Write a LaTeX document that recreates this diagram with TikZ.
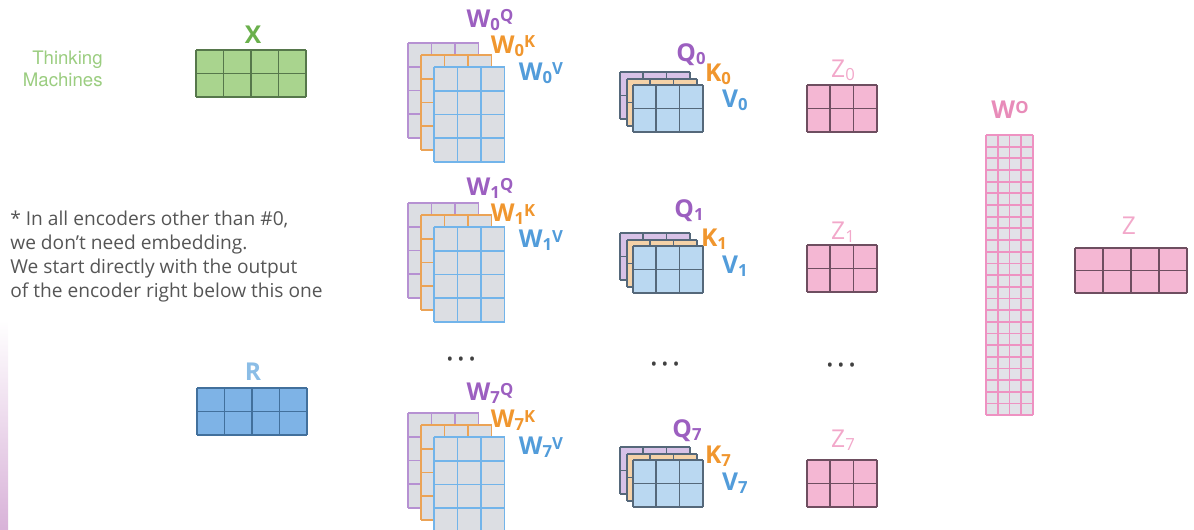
\documentclass[tikz,border=0pt]{standalone}
\usepackage{fontspec}
\setmainfont{Open Sans}
\newfontfamily\helvfont{TeX Gyre Heros}
\usetikzlibrary{positioning}

\definecolor{purplelab}{HTML}{9C5FC0}
\definecolor{purpleline}{HTML}{B691D2}
\definecolor{orangelab}{HTML}{F0962E}
\definecolor{orangeline}{HTML}{EBA356}
\definecolor{bluelab}{HTML}{529CDA}
\definecolor{blueline}{HTML}{72B4EA}
\definecolor{wfill}{HTML}{DCDEE3}
\definecolor{qpurple}{HTML}{D8C2E7}
\definecolor{qorange}{HTML}{F5D2A8}
\definecolor{qblue}{HTML}{BAD8F1}
\definecolor{qline}{HTML}{55687A}
\definecolor{zfill}{HTML}{F4B7D3}
\definecolor{zline}{HTML}{6E4E60}
\definecolor{zlab}{HTML}{F2A8CA}
\definecolor{wolab}{HTML}{E88CB9}
\definecolor{woline}{HTML}{EE92C2}
\definecolor{wofill}{HTML}{E2E2E8}
\definecolor{xfill}{HTML}{A9D48E}
\definecolor{xline}{HTML}{56774B}
\definecolor{xlab}{HTML}{6AB04C}
\definecolor{tmgreen}{HTML}{9BCD80}
\definecolor{rfill}{HTML}{7EB3E6}
\definecolor{rline}{HTML}{42709C}
\definecolor{rlab}{HTML}{8BBDE6}
\definecolor{notegray}{HTML}{555555}

% x, y, columns, rows, cell width, cell height, fill, line colour
\newcommand{\cellgrid}[8]{%
  \fill[#7] (#1,#2) rectangle ++(#3*#5,#4*#6);
  \foreach \i in {0,...,#3} \draw[#8,line width=1pt] (#1+\i*#5,#2) -- ++(0,#4*#6);
  \foreach \j in {0,...,#4} \draw[#8,line width=1pt] (#1,#2+\j*#6) -- ++(#3*#5,0);
}
\newcommand{\wstack}[2]{%
  \cellgrid{#1}{#2}{3}{4}{23.5}{23.75}{wfill}{purpleline}
  \cellgrid{#1+13}{#2+12}{3}{4}{23.5}{23.75}{wfill}{orangeline}
  \cellgrid{#1+26}{#2+24}{3}{4}{23.5}{23.75}{wfill}{blueline}
}
\newcommand{\qstack}[2]{%
  \cellgrid{#1}{#2}{3}{2}{23.3}{23.5}{qpurple}{qline}
  \cellgrid{#1+7}{#2+7}{3}{2}{23.3}{23.5}{qorange}{qline}
  \cellgrid{#1+13}{#2+13}{3}{2}{23.3}{23.5}{qblue}{qline}
}
\newcommand{\ssub}[1]{\raisebox{-1.5pt}{\fontsize{9.5}{9.5}\selectfont #1}}
\newcommand{\ssup}[1]{\raisebox{3.1pt}{\fontsize{9.5}{9.5}\selectfont #1}}

\tikzset{
  biglab/.style={inner sep=0pt,font=\fontsize{14}{16}\selectfont\bfseries},
  zlabel/.style={inner sep=0pt,text=zlab,font=\fontsize{14}{16}\selectfont},
  dots/.style={inner sep=0pt,text=black!75,font=\fontsize{10}{10}\selectfont}
}

\begin{document}
\begin{tikzpicture}[x=0.02cm,y=-0.02cm]
\useasboundingbox (0,0) rectangle (1194,529);
\shade[top color=white,bottom color=violet!30] (0,320) rectangle (8,529);

\node[anchor=east,align=right,inner sep=0pt,text=tmgreen,font=\helvfont\fontsize{10.6}{12.6}\selectfont] (brand) at (103,69) {Thinking\\Machines};

\node[anchor=north west,align=left,inner sep=0pt,text=notegray,font=\fontsize{10.9}{13.6}\selectfont] (note) at (10,211)
  {* In all encoders other than \#0,\\we don’t need embedding.\\We start directly with the output\\of the encoder right below this one};

\cellgrid{196}{50}{4}{2}{27.5}{23.5}{xfill}{xline}
\node[biglab,text=xlab] (xlab) at (253,35) {X};
\cellgrid{197}{388}{4}{2}{27.5}{23.5}{rfill}{rline}
\node[biglab,text=rlab] (rlab) at (253,372) {R};

\wstack{408}{43}
\wstack{408}{203}
\wstack{408}{413}
\node[biglab,text=purplelab] (wq0) at (490,20) {W\ssub{0}\ssup{Q}};
\node[biglab,text=orangelab] (wk0) at (513,46) {W\ssub{0}\ssup{K}};
\node[biglab,text=bluelab] (wv0) at (541,73) {W\ssub{0}\ssup{V}};
\node[biglab,text=purplelab] (wq1) at (490,188) {W\ssub{1}\ssup{Q}};
\node[biglab,text=orangelab] (wk1) at (513,214) {W\ssub{1}\ssup{K}};
\node[biglab,text=bluelab] (wv1) at (541,240) {W\ssub{1}\ssup{V}};
\node[biglab,text=purplelab] (wq7) at (490,393) {W\ssub{7}\ssup{Q}};
\node[biglab,text=orangelab] (wk7) at (513,420) {W\ssub{7}\ssup{K}};
\node[biglab,text=bluelab] (wv7) at (541,447) {W\ssub{7}\ssup{V}};

\qstack{620}{72}
\qstack{620}{233}
\qstack{620}{447}
\node[biglab,text=purplelab] (q0) at (691,55) {Q\ssub{0}};
\node[biglab,text=orangelab] (k0) at (718,74) {K\ssub{0}};
\node[biglab,text=bluelab] (v0) at (735,100) {V\ssub{0}};
\node[biglab,text=purplelab] (q1) at (689,211) {Q\ssub{1}};
\node[biglab,text=orangelab] (k1) at (714,239) {K\ssub{1}};
\node[biglab,text=bluelab] (v1) at (735,266) {V\ssub{1}};
\node[biglab,text=purplelab] (q7) at (687,431) {Q\ssub{7}};
\node[biglab,text=orangelab] (k7) at (718,456) {K\ssub{7}};
\node[biglab,text=bluelab] (v7) at (735,483) {V\ssub{7}};

\cellgrid{807}{85}{3}{2}{23.3}{23.5}{zfill}{zline}
\cellgrid{807}{245}{3}{2}{23.3}{23.5}{zfill}{zline}
\cellgrid{807}{460}{3}{2}{23.3}{23.5}{zfill}{zline}
\node[zlabel] (z0) at (843,70) {Z\ssub{0}};
\node[zlabel] (z1) at (843,232) {Z\ssub{1}};
\node[zlabel] (z7) at (843,440) {Z\ssub{7}};

\node[dots] (wdots) at (461,361) {\textbullet\ \textbullet\ \textbullet};
\node[dots] (qdots) at (665,366) {\textbullet\ \textbullet\ \textbullet};
\node[dots] (zdots) at (841,367) {\textbullet\ \textbullet\ \textbullet};

\cellgrid{986}{135}{4}{24}{11.75}{11.67}{wofill}{woline}
\node[biglab,text=wolab] (wo) at (1010,110) {W\ssup{O}};

\cellgrid{1075}{248}{4}{2}{28}{22.5}{zfill}{zline}
\node[zlabel] (z) at (1129,226) {Z};
\end{tikzpicture}
\end{document}
